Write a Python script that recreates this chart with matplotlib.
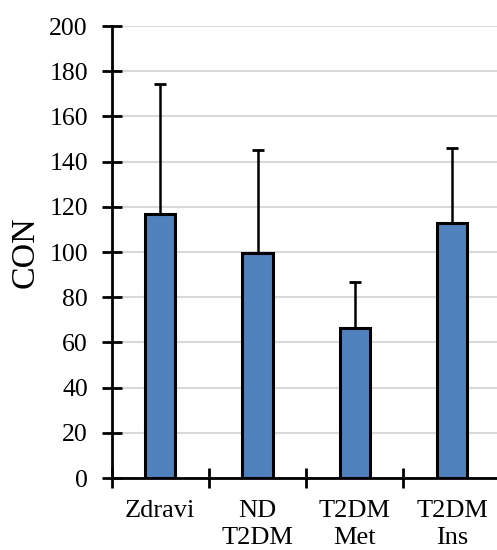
import numpy as np
import matplotlib.pyplot as plt
from matplotlib.ticker import FixedLocator

groups = ['Zdravi', 'ND\nT2DM', 'T2DM\nMet', 'T2DM\nIns']
con_mean = [117.0, 99.5, 66.4, 112.8]
con_sd = [57.5, 45.5, 20.5, 33.4]

plt.rcParams['font.family'] = ['Liberation Serif', 'DejaVu Serif']

fig = plt.figure(figsize=(4.97, 5.5), dpi=100)
ax = fig.add_axes([0.2245, 0.1309, 0.783, 0.8218])

x = np.arange(len(groups))
ax.bar(x, con_mean, width=0.31, color='#4f81bd', edgecolor='black',
       linewidth=2.2, zorder=3)
ax.errorbar(x, con_mean, yerr=[np.zeros(len(con_sd)), con_sd], fmt='none',
            ecolor='black', elinewidth=1.8, capsize=4.5, capthick=2.0, zorder=2)

ax.set_xlim(-0.5, len(groups) - 0.5)
ax.set_ylim(0, 200)
ax.set_yticks(np.arange(0, 201, 20))
ax.yaxis.grid(True, color='#d9d9d9', linewidth=1.5, zorder=0)
ax.set_axisbelow(True)

# category labels sit between boundary ticks
ax.xaxis.set_major_locator(FixedLocator(np.arange(-0.5, len(groups), 1.0)))
ax.xaxis.set_minor_locator(FixedLocator(x))
ax.set_xticklabels([])
ax.set_xticklabels(groups, minor=True, fontsize=19, linespacing=1.3)
ax.tick_params(axis='x', which='major', direction='inout', length=14, width=2)
ax.tick_params(axis='x', which='minor', length=0, pad=16)
ax.tick_params(axis='y', direction='inout', length=14, width=2, labelsize=18.5, pad=10)

for side in ['top', 'right']:
    ax.spines[side].set_visible(False)
for side in ['left', 'bottom']:
    ax.spines[side].set_linewidth(2)

ax.set_ylabel('CON', fontsize=24.5, labelpad=6)

fig.savefig('out.png', dpi=100)
